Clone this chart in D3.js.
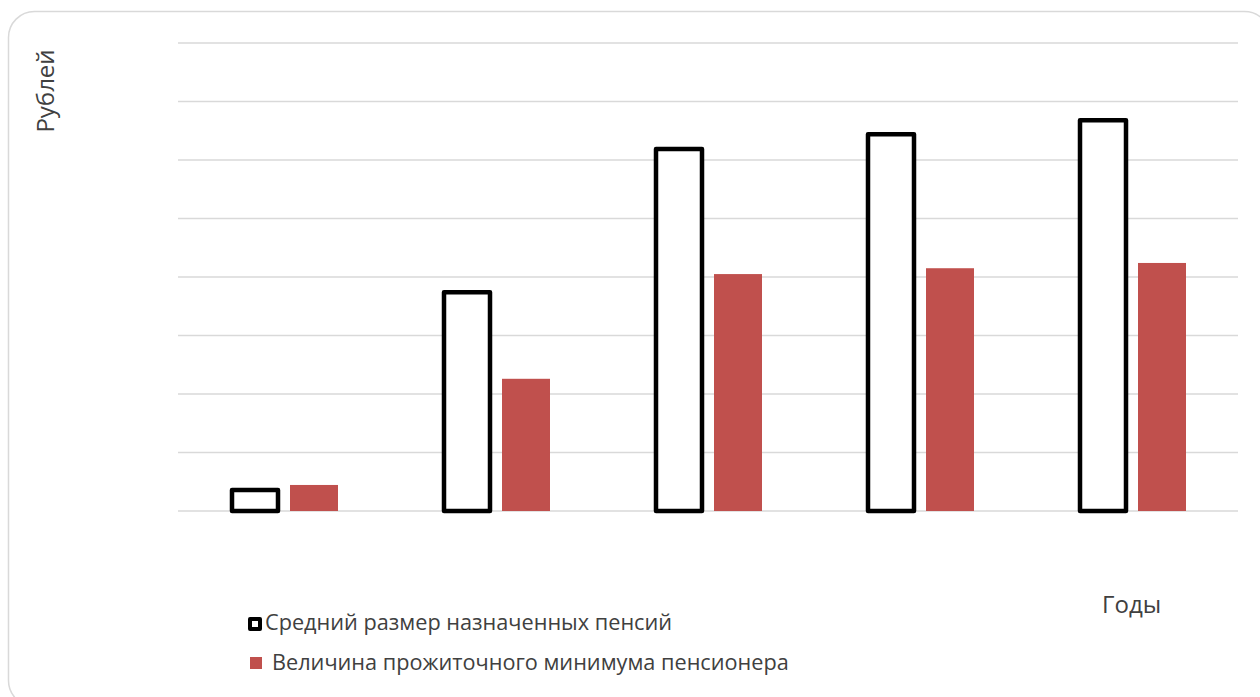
<!DOCTYPE html>
<html>
<head>
<meta charset="utf-8">
<script src="https://cdn.jsdelivr.net/npm/d3@7"></script>
<style>
  body { margin: 0; background: #fff; }
  text { font-family: "Open Sans", sans-serif; fill: #404040; }
</style>
</head>
<body>
<div id="chart"></div>
<script>
// Данные
const years = ['2000', '2005', '2010', '2011', '2012'];
const seriesNames = ['Средний размер назначенных пенсий', 'Величина прожиточного минимума пенсионера'];
const pensionAvg = [360, 3740, 6190, 6440, 6680];
const livingMin = [445, 2260, 4050, 4150, 4240];
const yTicks = [0, 1000, 2000, 3000, 4000, 5000, 6000, 7000, 8000];

const W = 1260, H = 697;
const plot = { left: 178, right: 1238, top: 43, bottom: 511 };

const svg = d3.select('#chart').append('svg')
  .attr('width', W)
  .attr('height', H);

// рамка
svg.append('rect')
  .attr('x', 8.5).attr('y', 11.5)
  .attr('width', 1262).attr('height', 695)
  .attr('rx', 26).attr('ry', 26)
  .attr('fill', '#fff')
  .attr('stroke', '#d9d9d9')
  .attr('stroke-width', 1.5);

const x0 = d3.scaleBand().domain(years).range([plot.left, plot.right]);
const x1 = d3.scaleBand().domain(seriesNames).range([52, 160]).paddingInner(0.2);
const y = d3.scaleLinear().domain([0, 8000]).range([plot.bottom, plot.top]);

// сетка
svg.append('g')
  .selectAll('line')
  .data(yTicks)
  .enter().append('line')
  .attr('x1', plot.left).attr('x2', plot.right)
  .attr('y1', d => y(d)).attr('y2', d => y(d))
  .attr('stroke', '#d9d9d9')
  .attr('stroke-width', 1.5);

const rows = years.map((yr, i) => ({ year: yr, values: [pensionAvg[i], livingMin[i]] }));

const groups = svg.selectAll('.grp')
  .data(rows)
  .enter().append('g')
  .attr('class', 'grp')
  .attr('transform', d => 'translate(' + x0(d.year) + ',0)');

// средний размер пенсий — контур
groups.append('rect')
  .attr('x', x1(seriesNames[0]) + 2)
  .attr('width', x1.bandwidth() - 2)
  .attr('y', d => y(d.values[0]))
  .attr('height', d => y(0) - y(d.values[0]))
  .attr('fill', '#fff')
  .attr('stroke', '#000')
  .attr('stroke-width', 4.5)
  .attr('stroke-linejoin', 'round');

// прожиточный минимум — заливка
groups.append('rect')
  .attr('x', x1(seriesNames[1]))
  .attr('width', x1.bandwidth())
  .attr('y', d => y(d.values[1]))
  .attr('height', d => y(0) - y(d.values[1]))
  .attr('fill', '#c0504d');

// подписи осей
svg.append('text')
  .attr('transform', 'translate(54,91) rotate(-90)')
  .attr('text-anchor', 'middle')
  .style('font-size', '24px')
  .text('Рублей');

svg.append('text')
  .attr('x', 1102).attr('y', 613)
  .style('font-size', '24px')
  .text('Годы');

// легенда
const legend = svg.append('g');
legend.append('rect')
  .attr('x', 250).attr('y', 619)
  .attr('width', 10).attr('height', 10)
  .attr('fill', '#fff')
  .attr('stroke', '#000')
  .attr('stroke-width', 4)
  .attr('stroke-linejoin', 'round');
legend.append('text')
  .attr('x', 265).attr('y', 630)
  .style('font-size', '21.7px')
  .text(seriesNames[0]);

legend.append('rect')
  .attr('x', 250).attr('y', 657)
  .attr('width', 12).attr('height', 12)
  .attr('fill', '#c0504d');
legend.append('text')
  .attr('x', 272).attr('y', 670)
  .style('font-size', '21.7px')
  .text(seriesNames[1]);
</script>
</body>
</html>
